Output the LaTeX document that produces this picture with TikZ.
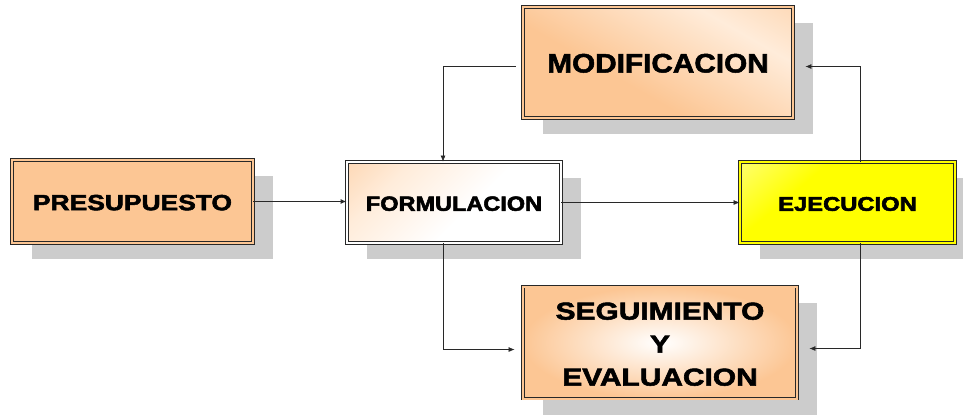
\documentclass[tikz,border=0pt]{standalone}
\usepackage{fontspec}
\usepackage{graphicx}
\newfontfamily\bx{Liberation Sans Bold}
\usetikzlibrary{shadows,arrows.meta,calc}
\definecolor{peach}{RGB}{252,198,148}
\definecolor{peachlt}{RGB}{255,236,218}
\definecolor{shad}{RGB}{204,204,204}
\definecolor{ylw}{RGB}{255,255,0}
\definecolor{ylwlt}{RGB}{255,255,190}
\definecolor{ln}{RGB}{40,40,40}
\pgfdeclareverticalshading{formshade}{100bp}{color(0bp)=(white); color(45bp)=(white); color(70bp)=(peachlt); color(100bp)=(peach)}
\pgfdeclareverticalshading{ejeshade}{100bp}{color(0bp)=(ylw); color(65bp)=(ylw); color(100bp)=(ylwlt)}
\pgfdeclareverticalshading{modshade}{100bp}{color(0bp)=(peach); color(40bp)=(peach); color(70bp)=(peachlt); color(100bp)=(peach)}
\newcommand{\boxtxt}[5]{\raisebox{-#5}[\height][\depth]{\scalebox{#1}[1]{\fontsize{#2}{#3}\selectfont\special{pdf:literal direct 2 Tr 0.5 w}\begin{tabular}{@{}c@{}}#4\end{tabular}\special{pdf:literal direct 0 Tr}}}}
\tikzset{
  box/.style={draw=ln, line width=0.8pt, double distance=2pt, rectangle,
    align=center, font=\bx, text=black, inner sep=0pt,
    drop shadow={shadow xshift=20pt, shadow yshift=-16pt, fill=shad, opacity=1}},
  arr/.style={draw=ln, line width=0.7pt, -{Latex[length=6pt,width=5pt]}},
}
\begin{document}
\begin{tikzpicture}[x=1pt,y=-1pt]
\useasboundingbox (0,0) rectangle (963,416);
\node[box, double=peach, fill=peach, minimum width=241pt, minimum height=83pt]
  (pres) at (132.5,201.5) {\boxtxt{1.2}{22}{26}{PRESUPUESTO}{3.5pt}};
\node[box, double=white, shading=formshade, shading angle=45, minimum width=214pt, minimum height=81pt]
  (form) at (454,202.5) {\boxtxt{1.14}{20.6}{24}{FORMULACION}{3.5pt}};
\node[box, double=peach, shading=modshade, shading angle=-30, minimum width=270pt, minimum height=111pt]
  (mod) at (658,62.5) {\boxtxt{1.11}{26.8}{30}{MODIFICACION}{4pt}};
\node[box, double=peach, inner color=white, outer color=peach, minimum width=274pt, minimum height=112pt]
  (seg) at (660,342.5) {\boxtxt{1.22}{24.5}{33}{SEGUIMIENTO\\Y\\EVALUACION}{3.5pt}};
\node[box, double=ylw, shading=ejeshade, shading angle=40, minimum width=215pt, minimum height=81pt]
  (eje) at (847.5,202.5) {\boxtxt{1.2}{19.8}{24}{EJECUCION}{3.5pt}};

\draw[arr, line width=1.3pt] (pres.east) -- (pres.east -| form.west);
\draw[arr] (form.east) -- (eje.west);
\coordinate (m1) at ([xshift=-7pt,yshift=-4pt]mod.west);
\draw[arr] (m1) -| ([xshift=-11pt]form.north);
\draw[arr] ([xshift=-11pt]form.south) |- ([xshift=-8pt,yshift=-7pt]seg.west);
\draw[arr] ([xshift=13pt]eje.north) |- ([xshift=12pt,yshift=-4pt]mod.east);
\draw[arr] ([xshift=13pt]eje.south) |- ([xshift=12pt,yshift=-6pt]seg.east);
\end{tikzpicture}
\end{document}
